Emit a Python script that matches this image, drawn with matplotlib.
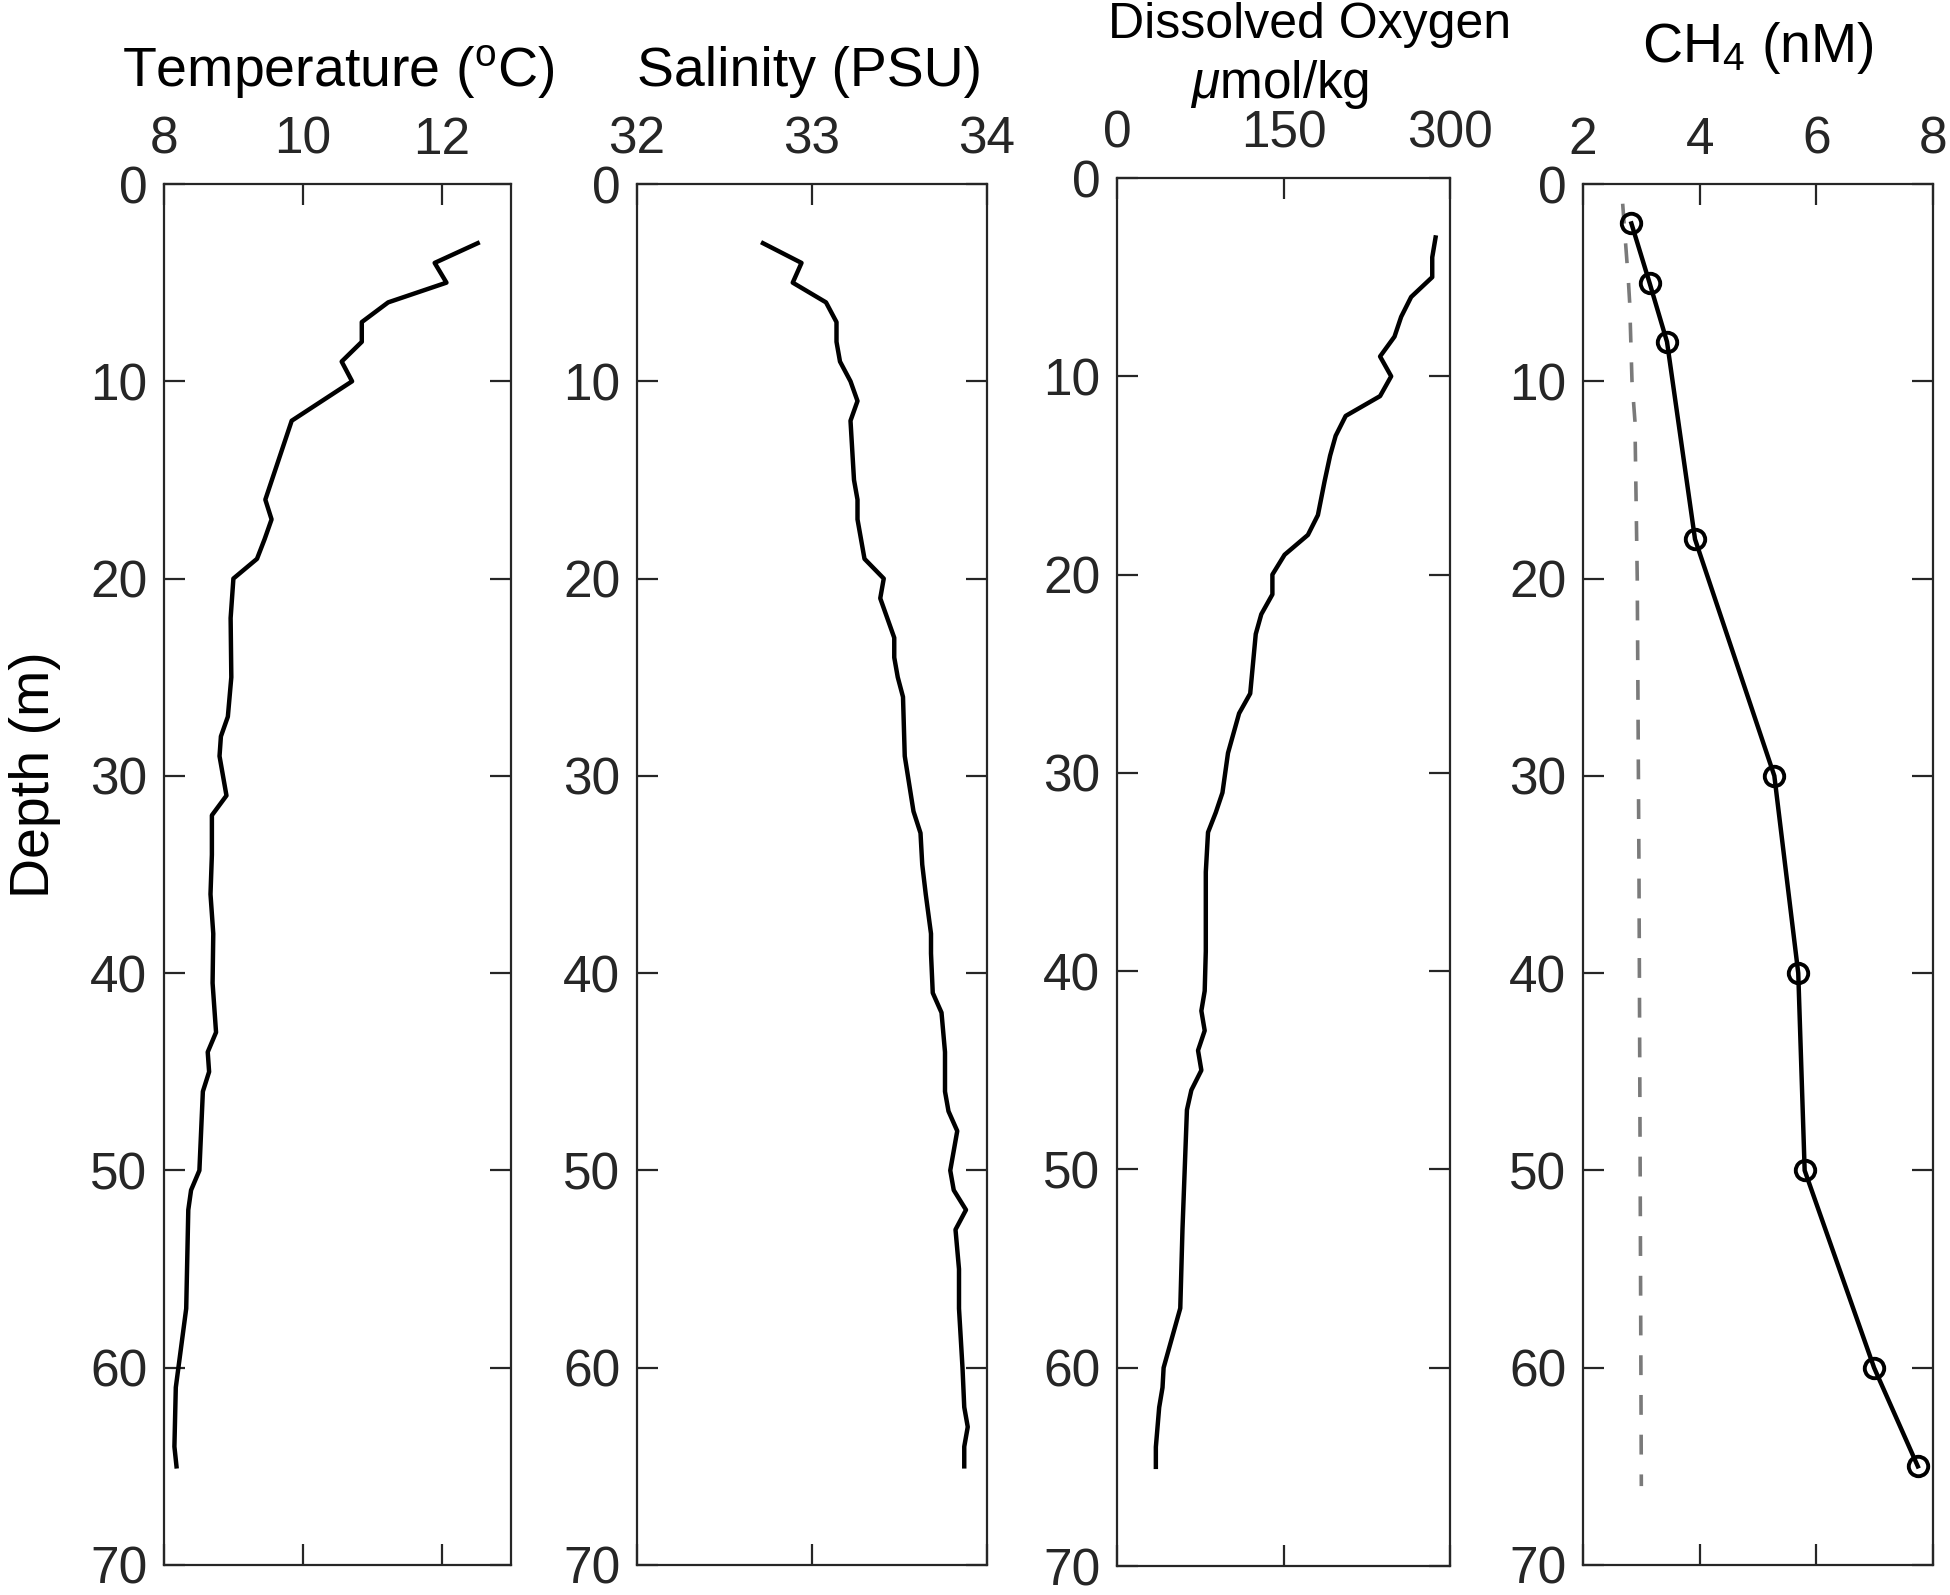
import matplotlib
matplotlib.use("Agg")
import matplotlib.pyplot as plt

# Profils CTD (profondeur en m)
temp_depth = [3, 4, 5, 6, 7, 8, 9, 10, 12, 16, 17, 18, 19, 20, 22, 25, 27, 28, 29, 31,
              32, 34, 36, 38, 40.5, 43, 44, 45, 46, 50, 51, 52, 57, 61, 64, 65]
temp_vals = [12.52, 11.9, 12.07, 11.23, 10.85, 10.85, 10.56, 10.71, 9.84, 9.46, 9.55, 9.45,
             9.34, 9.0, 8.96, 8.97, 8.92, 8.82, 8.80, 8.90, 8.69, 8.69, 8.67, 8.71, 8.70,
             8.75, 8.63, 8.65, 8.56, 8.51, 8.39, 8.35, 8.32, 8.17, 8.15, 8.18]

sal_depth = [3, 4, 5, 6, 7, 8, 9, 10, 11, 12, 15, 16, 17, 19, 20, 21, 22, 23, 24, 25, 26,
             29, 31.8, 32.9, 34.5, 36, 38, 39, 41, 42, 44, 46, 47, 48, 50, 51, 52, 53, 55,
             57, 60, 62, 63, 64, 65]
sal_vals = [32.72, 32.94, 32.89, 33.08, 33.14, 33.14, 33.16, 33.22, 33.26, 33.22, 33.24,
            33.26, 33.26, 33.30, 33.41, 33.39, 33.43, 33.47, 33.47, 33.49, 33.52, 33.53,
            33.58, 33.62, 33.63, 33.65, 33.68, 33.68, 33.69, 33.74, 33.76, 33.76, 33.78,
            33.83, 33.79, 33.81, 33.88, 33.82, 33.84, 33.84, 33.86, 33.87, 33.89, 33.87, 33.87]

oxy_depth = [3, 4, 5, 6, 7, 8, 9, 10, 11, 12, 13, 14, 15.3, 17, 18, 19, 20, 21, 22, 23, 26,
             27, 29, 31, 32, 33, 35, 39, 41, 42, 43, 44, 45, 46, 47, 53, 57, 60, 61, 62, 64, 65]
oxy_vals = [287, 284, 284, 265, 256, 250, 237, 247, 237, 206, 197, 192, 187, 181, 172, 151,
            140, 140, 130, 125, 120, 110, 100, 95, 89, 82, 80, 80, 79, 76, 79, 73, 76, 67,
            63, 59, 57, 42, 41, 38, 35, 35]

# CH4 mesuré et à l'équilibre atmosphérique
ch4_depth = [2, 5, 8, 18, 30, 40, 50, 60, 65]
ch4_vals = [2.83, 3.14, 3.44, 3.92, 5.28, 5.69, 5.80, 6.99, 7.74]
eq_depth = [1, 3, 5, 6, 10, 12, 20, 35, 50, 66]
eq_vals = [2.68, 2.73, 2.78, 2.80, 2.84, 2.89, 2.93, 2.96, 2.98, 3.00]

depth_ticks = [0, 10, 20, 30, 40, 50, 60, 70]

plt.rcParams['font.family'] = ['Liberation Sans', 'DejaVu Sans']
plt.rcParams['mathtext.fontset'] = 'custom'
plt.rcParams['mathtext.rm'] = 'Liberation Sans'
plt.rcParams['mathtext.it'] = 'Liberation Sans:italic'

W, H = 1950, 1595
fig = plt.figure(figsize=(W / 100, H / 100), dpi=100)

dark = '#262626'

def panel(rect_px, xlim, xticks):
    # rect_px = (gauche, haut, droite, bas) en pixels
    l, t, r, b = rect_px
    ax = fig.add_axes([l / W, 1 - b / H, (r - l) / W, (b - t) / H])
    ax.set_xlim(*xlim)
    ax.set_ylim(70, 0)
    ax.set_xticks(xticks)
    ax.set_yticks(depth_ticks)
    ax.xaxis.tick_top()
    ax.tick_params(axis='both', direction='in', length=15, width=1.6, colors=dark,
                   labelsize=37, top=True, bottom=True, left=True, right=True,
                   labeltop=True, labelbottom=False)
    ax.tick_params(axis='x', pad=14)
    ax.tick_params(axis='y', pad=12)
    for s in ax.spines.values():
        s.set_linewidth(1.6)
        s.set_color(dark)
    return ax

ax1 = panel((164, 184, 511, 1565), (8, 13), [8, 10, 12])
ax1.plot(temp_vals, temp_depth, color='black', lw=3.2)

ax2 = panel((637, 184, 987, 1565), (32, 34), [32, 33, 34])
ax2.plot(sal_vals, sal_depth, color='black', lw=3.2)

ax3 = panel((1117, 178, 1450, 1566), (0, 300), [0, 150, 300])
ax3.plot(oxy_vals, oxy_depth, color='black', lw=3.2)

ax4 = panel((1583, 184, 1933, 1565), (2, 8), [2, 4, 6, 8])
ax4.plot(eq_vals, eq_depth, color='#7a7a7a', lw=2.6, dashes=(5.5, 5.5))
ax4.plot(ch4_vals, ch4_depth, color='black', lw=3.2, marker='o', ms=14,
         mfc='none', mec='black', mew=2.8)

# Titres des axes
def label(x, y, txt, size):
    fig.text(x / W, 1 - y / H, txt, ha='center', va='baseline', fontsize=size, color='black')

label(338, 87, r'Temperature ($^{\mathrm{o}}$C)', 40)
label(810, 86, 'Salinity (PSU)', 40)
label(1310, 38, 'Dissolved Oxygen', 36)
label(1280, 98, r'$\mu$mol/kg', 37)
label(1758, 62, r'CH$_4$ (nM)', 40)

fig.text(35 / W, 1 - 775 / H, 'Depth (m)', rotation=90, ha='center', va='center',
         fontsize=40, color='black')

fig.savefig('out.png', dpi=100)
